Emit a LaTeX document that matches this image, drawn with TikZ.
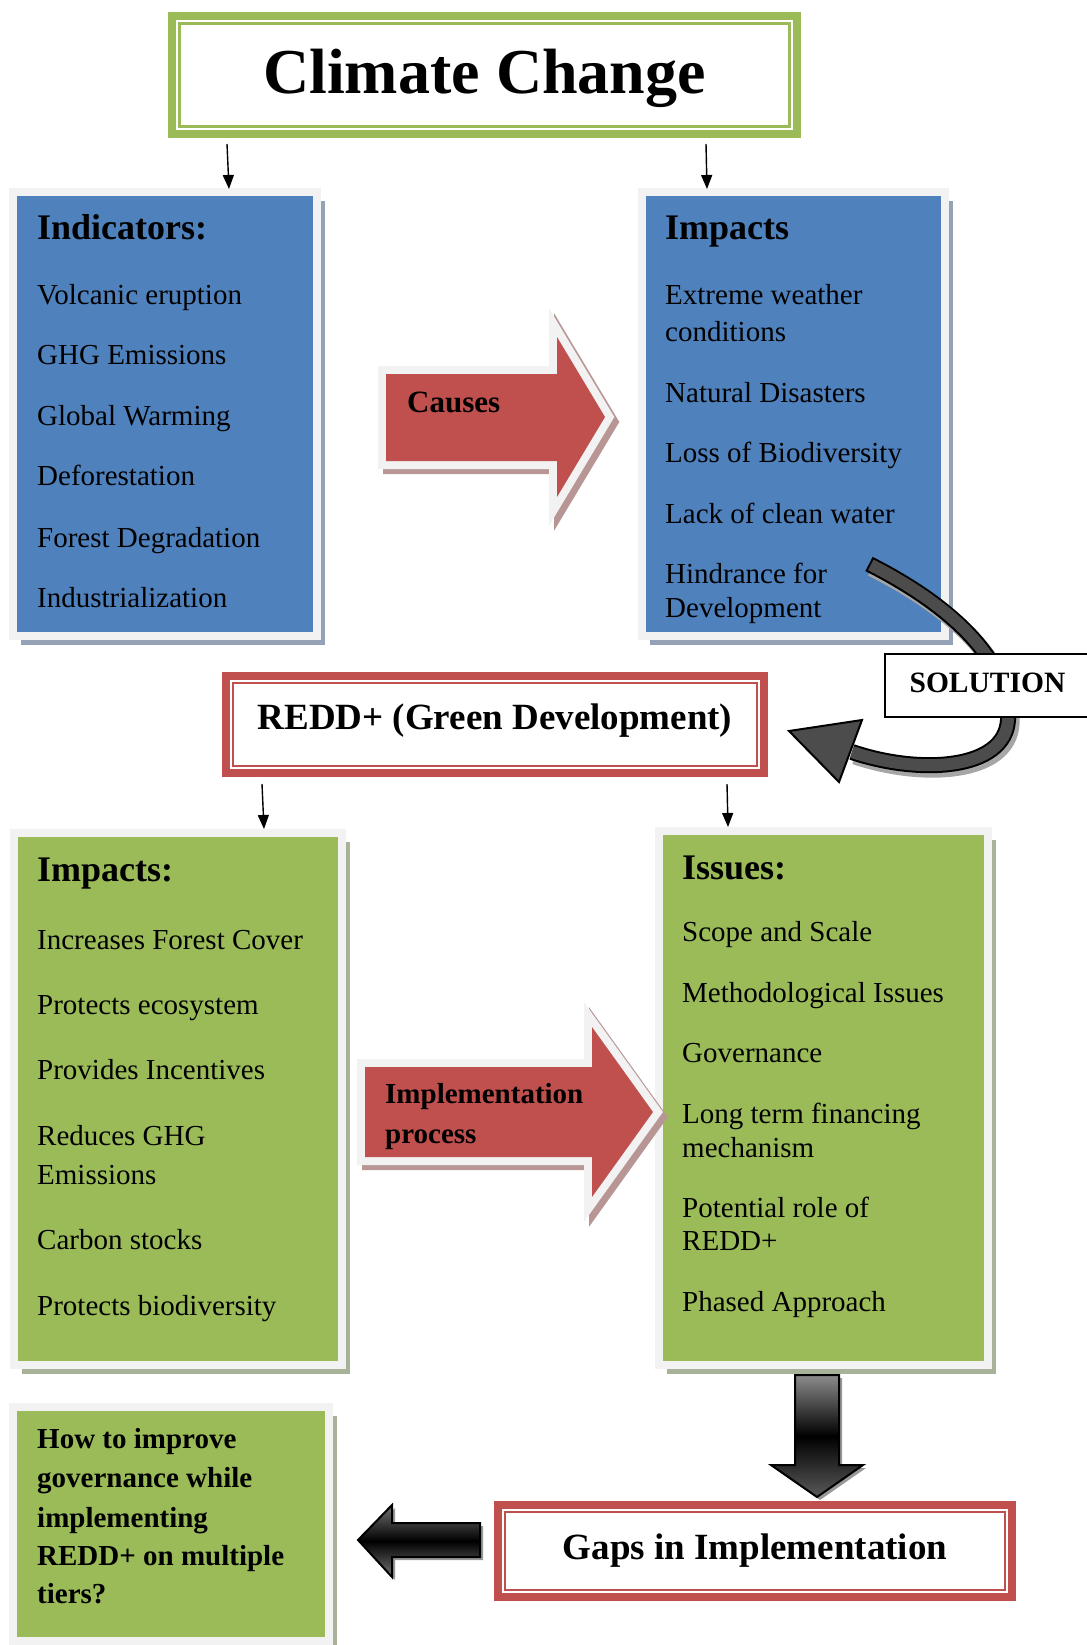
\documentclass[tikz,border=0pt]{standalone}
\usepackage{fontspec}
\setmainfont{Liberation Serif}
\usetikzlibrary{positioning,arrows.meta,shadows,calc}
\definecolor{panelblue}{RGB}{79,129,189}
\definecolor{panelgreen}{RGB}{155,187,89}
\definecolor{panelred}{RGB}{192,80,77}
\definecolor{framegray}{RGB}{242,242,242}
\definecolor{blueshadow}{RGB}{149,161,181}
\definecolor{greenshadow}{RGB}{168,178,152}
\definecolor{redshadow}{RGB}{185,150,150}

\tikzset{
  panel/.style={draw=framegray, line width=8pt, inner sep=0pt, outer sep=0pt},
  bluepanel/.style={panel, fill=panelblue,
    drop shadow={shadow xshift=8pt, shadow yshift=-9pt, fill=blueshadow, opacity=1}},
  greenpanel/.style={panel, fill=panelgreen,
    drop shadow={shadow xshift=8pt, shadow yshift=-9pt, fill=greenshadow, opacity=1}},
  titlebox/.style={draw=panelgreen, fill=white, line width=8pt, outer sep=0pt,
    font=\bfseries\fontsize{64}{70}\selectfont},
  redbox/.style={draw=panelred, fill=white, line width=8pt, outer sep=0pt,
    font=\bfseries\fontsize{37}{42}\selectfont},
  solbox/.style={draw=black, fill=white, line width=1.2pt, outer sep=0pt,
    font=\bfseries\fontsize{29.5}{34}\selectfont},
  headtext/.style={anchor=base west, inner sep=0pt, font=\bfseries\fontsize{36}{42}\selectfont},
  itemtext/.style={anchor=base west, inner sep=0pt, font=\fontsize{29}{34}\selectfont},
  boldtext/.style={anchor=base west, inner sep=0pt, font=\bfseries\fontsize{29}{34}\selectfont},
  conn/.style={line width=1.4pt, -{Triangle[width=11pt,length=14pt]}},
  redarrow/.style={fill=panelred, line join=miter,
    preaction={draw=redshadow, fill=redshadow, line width=16pt, line join=miter,
      transform canvas={shift={(5pt,-5pt)}}},
    preaction={draw=framegray, line width=16pt, line join=miter}},
  blockarrow/.style={draw=black, line width=2pt, line join=miter,
    drop shadow={shadow xshift=3pt, shadow yshift=-3pt, fill=black!40, opacity=1}}
}

\begin{document}
\begin{tikzpicture}[x=1pt, y=-1pt]
\useasboundingbox (0,0) rectangle (1086,1645);

% title
\node[titlebox, minimum width=625, minimum height=118, text depth=8pt] (title) at (484.5,75) {Climate Change};
\draw[panelgreen, line width=2.5pt] ([shift={(7.5,7.5)}]title.north west) rectangle ([shift={(-7.5,-7.5)}]title.south east);

% first row
\node[bluepanel, minimum width=304, minimum height=444] (ind) at (165,414) {};
\node[bluepanel, minimum width=303, minimum height=444] (imp) at (793.5,414) {};

\node[headtext] (ind0) at (37,240) {Indicators:};
\node[itemtext] (ind1) at (37,304) {Volcanic eruption};
\node[itemtext] (ind2) at (37,364) {GHG Emissions};
\node[itemtext] (ind3) at (37,425) {Global Warming};
\node[itemtext] (ind4) at (37,485) {Deforestation};
\node[itemtext] (ind5) at (37,547) {Forest Degradation};
\node[itemtext] (ind6) at (37,607) {Industrialization};

\node[headtext] (imp0) at (665,240) {Impacts};
\node[itemtext] (imp1) at (665,304) {Extreme weather};
\node[itemtext] (imp1b) at (665,341) {conditions};
\node[itemtext] (imp2) at (665,402) {Natural Disasters};
\node[itemtext] (imp3) at (665,462) {Loss of Biodiversity};
\node[itemtext] (imp4) at (665,523) {Lack of clean water};
\node[itemtext] (imp5) at (665,583) {Hindrance for};
\node[itemtext] (imp5b) at (665,617) {Development};

\draw[conn] ([shift={(55,10)}]title.south west) -- ([shift={(64,-3)}]ind.north);
\draw[conn] ([shift={(534,10)}]title.south west) -- ([shift={(-86.5,-3)}]imp.north);

% causes
\path[redarrow] (386,374) -- (557,374) -- (557,337) -- (605,417) -- (557,497) -- (557,461) -- (386,461) -- cycle;
\node[boldtext, font=\bfseries\fontsize{31}{36}\selectfont] (causes) at (407,412) {Causes};

% solution
\draw[line width=17pt, black!35, transform canvas={shift={(3pt,-4pt)}}] (869,564) .. controls (950,605) and (1010,660) .. (1008,720) .. controls (1005,770) and (920,775) .. (852,752);
\draw[line width=16pt, black] (869,564) .. controls (950,605) and (1010,660) .. (1008,720) .. controls (1005,770) and (920,775) .. (852,752);
\draw[line width=12pt, black!70, shorten <=2pt] (869,564) .. controls (950,605) and (1010,660) .. (1008,720) .. controls (1005,770) and (920,775) .. (852,752);
\filldraw[fill=black!70, draw=black, line width=2pt, line join=miter] (789,731) -- (862,720) -- (839,782) -- cycle;
\node[solbox, minimum width=205, minimum height=63, text depth=5pt] (sol) at (987.5,685.5) {SOLUTION};

% redd
\node[redbox, minimum width=538, minimum height=97, text height=10pt, text depth=0pt] (redd) at (495,724.5) {REDD+ (Green Development)};
\draw[panelred, line width=2.5pt] ([shift={(7,7)}]redd.north west) rectangle ([shift={(-7,-7)}]redd.south east);

% second row
\node[greenpanel, minimum width=328, minimum height=532] (gimp) at (178,1099) {};
\node[greenpanel, minimum width=329, minimum height=534] (iss) at (823.5,1098) {};

\draw[conn] ([shift={(36,11)}]redd.south west) -- ([shift={(86,-4)}]gimp.north);
\draw[conn] ([shift={(501,11)}]redd.south west) -- ([shift={(-95.5,-4)}]iss.north);

\node[headtext] (gimp0) at (37,881) {Impacts:};
\node[itemtext] (gimp1) at (37,949) {Increases Forest Cover};
\node[itemtext] (gimp2) at (37,1014) {Protects ecosystem};
\node[itemtext] (gimp3) at (37,1079) {Provides Incentives};
\node[itemtext] (gimp4) at (37,1145) {Reduces GHG};
\node[itemtext] (gimp4b) at (37,1184) {Emissions};
\node[itemtext] (gimp5) at (37,1249) {Carbon stocks};
\node[itemtext] (gimp6) at (37,1315) {Protects biodiversity};

\node[headtext] (iss0) at (682,879) {Issues:};
\node[itemtext] (iss1) at (682,941) {Scope and Scale};
\node[itemtext] (iss2) at (682,1002) {Methodological Issues};
\node[itemtext] (iss3) at (682,1062) {Governance};
\node[itemtext] (iss4) at (682,1123) {Long term financing};
\node[itemtext] (iss4b) at (682,1157) {mechanism};
\node[itemtext] (iss5) at (682,1217) {Potential role of};
\node[itemtext] (iss5b) at (682,1250) {REDD+};
\node[itemtext] (iss6) at (682,1311) {Phased Approach};

% implementation
\path[redarrow] (365,1067) -- (592,1067) -- (592,1027) -- (653,1112) -- (592,1197) -- (592,1157) -- (365,1157) -- cycle;
\node[boldtext] (impl1) at (385,1103) {Implementation};
\node[boldtext] (impl2) at (385,1143) {process};

% gaps
\path[blockarrow, top color=black!45, bottom color=black!65, middle color=black] (795,1375) -- (839,1375) -- (839,1465) -- (863,1465) -- (817,1497) -- (771,1465) -- (795,1465) -- cycle;
\node[redbox, minimum width=514, minimum height=92] (gaps) at (755,1551) {Gaps in Implementation};
\draw[panelred, line width=2.5pt] ([shift={(7,7)}]gaps.north west) rectangle ([shift={(-7,-7)}]gaps.south east);
\path[blockarrow, top color=black!55, bottom color=black!55, middle color=black] (358,1540) -- (392,1505) -- (392,1523) -- (480,1523) -- (480,1557) -- (392,1557) -- (392,1577) -- cycle;

\node[greenpanel, minimum width=316, minimum height=234] (gov) at (171,1524) {};
\node[boldtext] (gov1) at (37,1448) {How to improve};
\node[boldtext] (gov2) at (37,1487) {governance while};
\node[boldtext] (gov3) at (37,1527) {implementing};
\node[boldtext] (gov4) at (37,1565) {REDD+ on multiple};
\node[boldtext] (gov5) at (37,1603) {tiers?};
\end{tikzpicture}
\end{document}
